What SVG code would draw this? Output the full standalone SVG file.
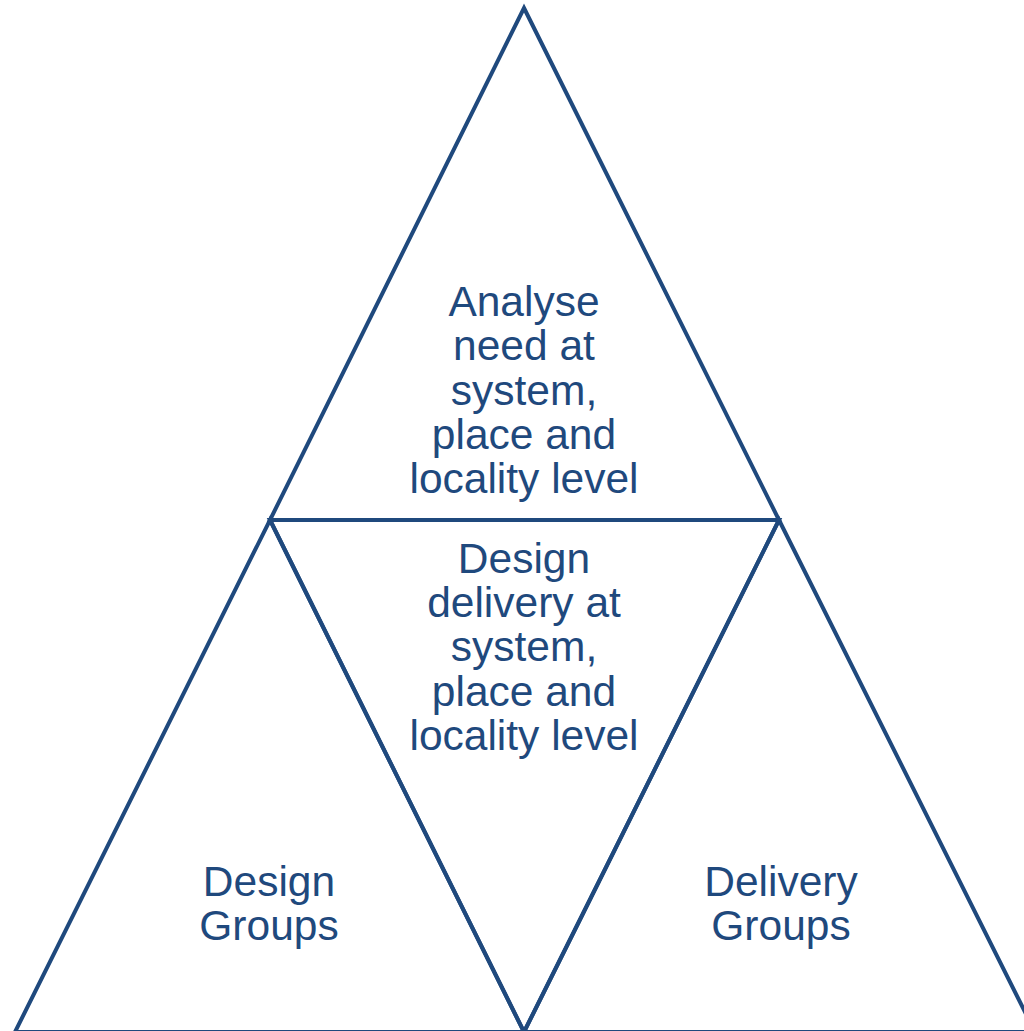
<svg xmlns="http://www.w3.org/2000/svg" width="1024" height="1031" viewBox="0 0 1024 1031">
  <style>
    .tri { fill: none; stroke: #1F497D; stroke-width: 4; stroke-linejoin: miter; }
    .lbl { font-family: "Liberation Sans", Arial, sans-serif; font-size: 42.5px; fill: #1F497D; text-anchor: middle; }
  </style>
  <rect width="1024" height="1031" fill="#ffffff"/>
  <g id="connectors"/>
  <g id="analyse">
    <polygon class="tri" points="524,8 779,520 270,520"/>
    <text class="lbl" x="524" y="316">Analyse</text>
    <text class="lbl" x="524" y="360">need at</text>
    <text class="lbl" x="524" y="405">system,</text>
    <text class="lbl" x="524" y="449">place and</text>
    <text class="lbl" x="524" y="493">locality level</text>
  </g>
  <g id="design-delivery">
    <polygon class="tri" points="270,520 779,520 524,1032"/>
    <text class="lbl" x="524" y="573">Design</text>
    <text class="lbl" x="524" y="617">delivery at</text>
    <text class="lbl" x="524" y="661">system,</text>
    <text class="lbl" x="524" y="706">place and</text>
    <text class="lbl" x="524" y="750">locality level</text>
  </g>
  <g id="design-groups">
    <polygon class="tri" points="270,520 524,1032 15,1032"/>
    <text class="lbl" x="269" y="896">Design</text>
    <text class="lbl" x="269" y="940">Groups</text>
  </g>
  <g id="delivery-groups">
    <polygon class="tri" points="779,520 1035,1032 524,1032"/>
    <text class="lbl" x="781" y="896">Delivery</text>
    <text class="lbl" x="781" y="940">Groups</text>
  </g>
</svg>
